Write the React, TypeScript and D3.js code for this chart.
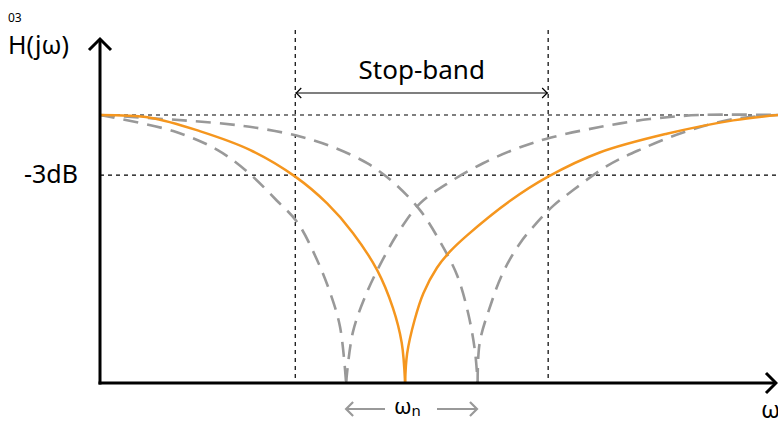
import React from 'react';
import * as d3 from 'd3';

// frequency (arbitrary units, 0..10) vs magnitude (1 = pass-band level)
const notchMain: [number, number][] = [
  [0, 1.0], [0.74, 0.99], [1.47, 0.94], [2.21, 0.87], [2.88, 0.77], [3.35, 0.67],
  [3.73, 0.56], [4.09, 0.42], [4.32, 0.28], [4.45, 0.15], [4.5, 0],
  [4.53, 0.11], [4.64, 0.235], [4.77, 0.335], [4.97, 0.43], [5.16, 0.49], [5.41, 0.55],
  [6.05, 0.68], [6.61, 0.77], [7.37, 0.86], [8.36, 0.93], [9.34, 0.98], [10, 1.0],
];
const notchLow: [number, number][] = [
  [0, 1.0], [1.08, 0.94], [1.73, 0.87], [2.21, 0.78], [2.61, 0.68], [2.91, 0.6],
  [3.2, 0.46], [3.39, 0.34], [3.54, 0.21], [3.63, 0],
  [3.73, 0.19], [3.94, 0.34], [4.17, 0.46], [4.42, 0.57], [4.72, 0.67], [5.16, 0.75],
  [5.65, 0.82], [6.15, 0.875], [6.64, 0.915], [7.37, 0.955], [8.11, 0.985],
  [8.85, 1.0], [10, 1.0],
];
const notchHigh: [number, number][] = [
  [0, 1.0], [1.73, 0.97], [2.36, 0.95], [2.95, 0.92], [3.44, 0.88], [3.94, 0.82],
  [4.32, 0.75], [4.72, 0.645], [5.01, 0.53], [5.27, 0.4], [5.43, 0.26], [5.53, 0.12], [5.57, 0],
  [5.6, 0.15], [5.76, 0.29], [5.94, 0.41], [6.19, 0.52], [6.45, 0.6], [6.68, 0.66],
  [6.98, 0.72], [7.48, 0.81], [7.96, 0.87], [8.6, 0.935], [9.34, 0.985], [10, 1.0],
];

const passLevel = 1.0;
const cutLevel = 0.776; // -3dB
const stopBand = [2.88, 6.61];
const wnSpread = [3.63, 5.56];

const labels = {
  fig: '03',
  yAxis: 'H(jω)',
  cut: '-3dB',
  band: 'Stop-band',
  xAxis: 'ω',
};

const W = 778;
const H = 421;
const ORANGE = '#f5961e';
const GREY = '#999999';

function split(data: [number, number][]) {
  let k = 0;
  data.forEach((d, i) => { if (d[1] < data[k][1]) k = i; });
  return [data.slice(0, k + 1), data.slice(k)];
}

export default function App() {
  const x = d3.scaleLinear().domain([0, 10]).range([100, 778]);
  const y = d3.scaleLinear().domain([0, 1]).range([383, 115]);

  const line = d3.line<[number, number]>()
    .x(d => x(d[0]))
    .y(d => y(d[1]))
    .curve(d3.curveCatmullRom.alpha(0.5));

  const font = "'Noto Sans', sans-serif";

  const curve = (data: [number, number][], stroke: string, dash?: string, sw = 2.5) =>
    split(data).map((part, i) => (
      <path key={i} d={line(part) || ''} fill="none" stroke={stroke} strokeWidth={sw}
        strokeDasharray={dash} />
    ));

  const chevron = (px: number, py: number, dir: number, s: number, stroke: string, sw: number) => (
    <path d={`M${px - dir * s},${py - s}L${px},${py}L${px - dir * s},${py + s}`}
      fill="none" stroke={stroke} strokeWidth={sw} />
  );

  return (
    <svg width={W} height={H} style={{ position: 'absolute', left: 0, top: 0 }}>
      <rect width={W} height={H} fill="#fff" />

      {/* guide lines */}
      <g stroke="#000" strokeWidth={1.2} strokeDasharray="4 4" fill="none">
        <line x1={x(0)} x2={x(10)} y1={y(passLevel)} y2={y(passLevel)} />
        <line x1={x(0)} x2={x(10)} y1={y(cutLevel)} y2={y(cutLevel)} />
        {stopBand.map((s, i) => (
          <line key={i} x1={x(s)} x2={x(s)} y1={30} y2={y(0)} />
        ))}
      </g>

      {curve(notchLow, GREY, '15 9', 2.6)}
      {curve(notchHigh, GREY, '15 9', 2.6)}
      {curve(notchMain, ORANGE)}

      {/* axes */}
      <line x1={x(0)} x2={x(0)} y1={y(0) + 1.5} y2={39} stroke="#000" strokeWidth={3} />
      <path d={`M${x(0) - 11},50L${x(0)},39L${x(0) + 11},50`} fill="none" stroke="#000" strokeWidth={3} />
      <line x1={x(0) - 1.5} x2={776} y1={y(0)} y2={y(0)} stroke="#000" strokeWidth={3} />
      {chevron(776, y(0), 1, 10, '#000', 3)}

      {/* stop-band arrow */}
      <line x1={x(stopBand[0])} x2={x(stopBand[1])} y1={93} y2={93} stroke="#000" strokeWidth={1.2} />
      {chevron(x(stopBand[0]) + 1, 93, -1, 5, '#000', 1.2)}
      {chevron(x(stopBand[1]) - 1, 93, 1, 5, '#000', 1.2)}
      <text x={(x(stopBand[0]) + x(stopBand[1])) / 2} y={79} textAnchor="middle"
        fontFamily={font} fontSize={26}>{labels.band}</text>

      {/* ωn spread arrows */}
      <line x1={x(wnSpread[0])} x2={385} y1={409} y2={409} stroke={GREY} strokeWidth={2.2} />
      {chevron(x(wnSpread[0]), 409, -1, 7, GREY, 2.2)}
      <line x1={437} x2={x(wnSpread[1])} y1={409} y2={409} stroke={GREY} strokeWidth={2.2} />
      {chevron(x(wnSpread[1]), 409, 1, 7, GREY, 2.2)}
      <text x={394} y={414} fontFamily={font} fontSize={22}>ω<tspan fontSize={15} dy={2}>n</tspan></text>

      <text x={8} y={54} fontFamily={font} fontSize={12} dy={-32}>{labels.fig}</text>
      <text x={8} y={54} fontFamily={font} fontSize={25}>{labels.yAxis}</text>
      <text x={24} y={183} fontFamily={font} fontSize={25}>{labels.cut}</text>
      <text x={761} y={418} fontFamily={font} fontSize={24}>{labels.xAxis}</text>
    </svg>
  );
}
